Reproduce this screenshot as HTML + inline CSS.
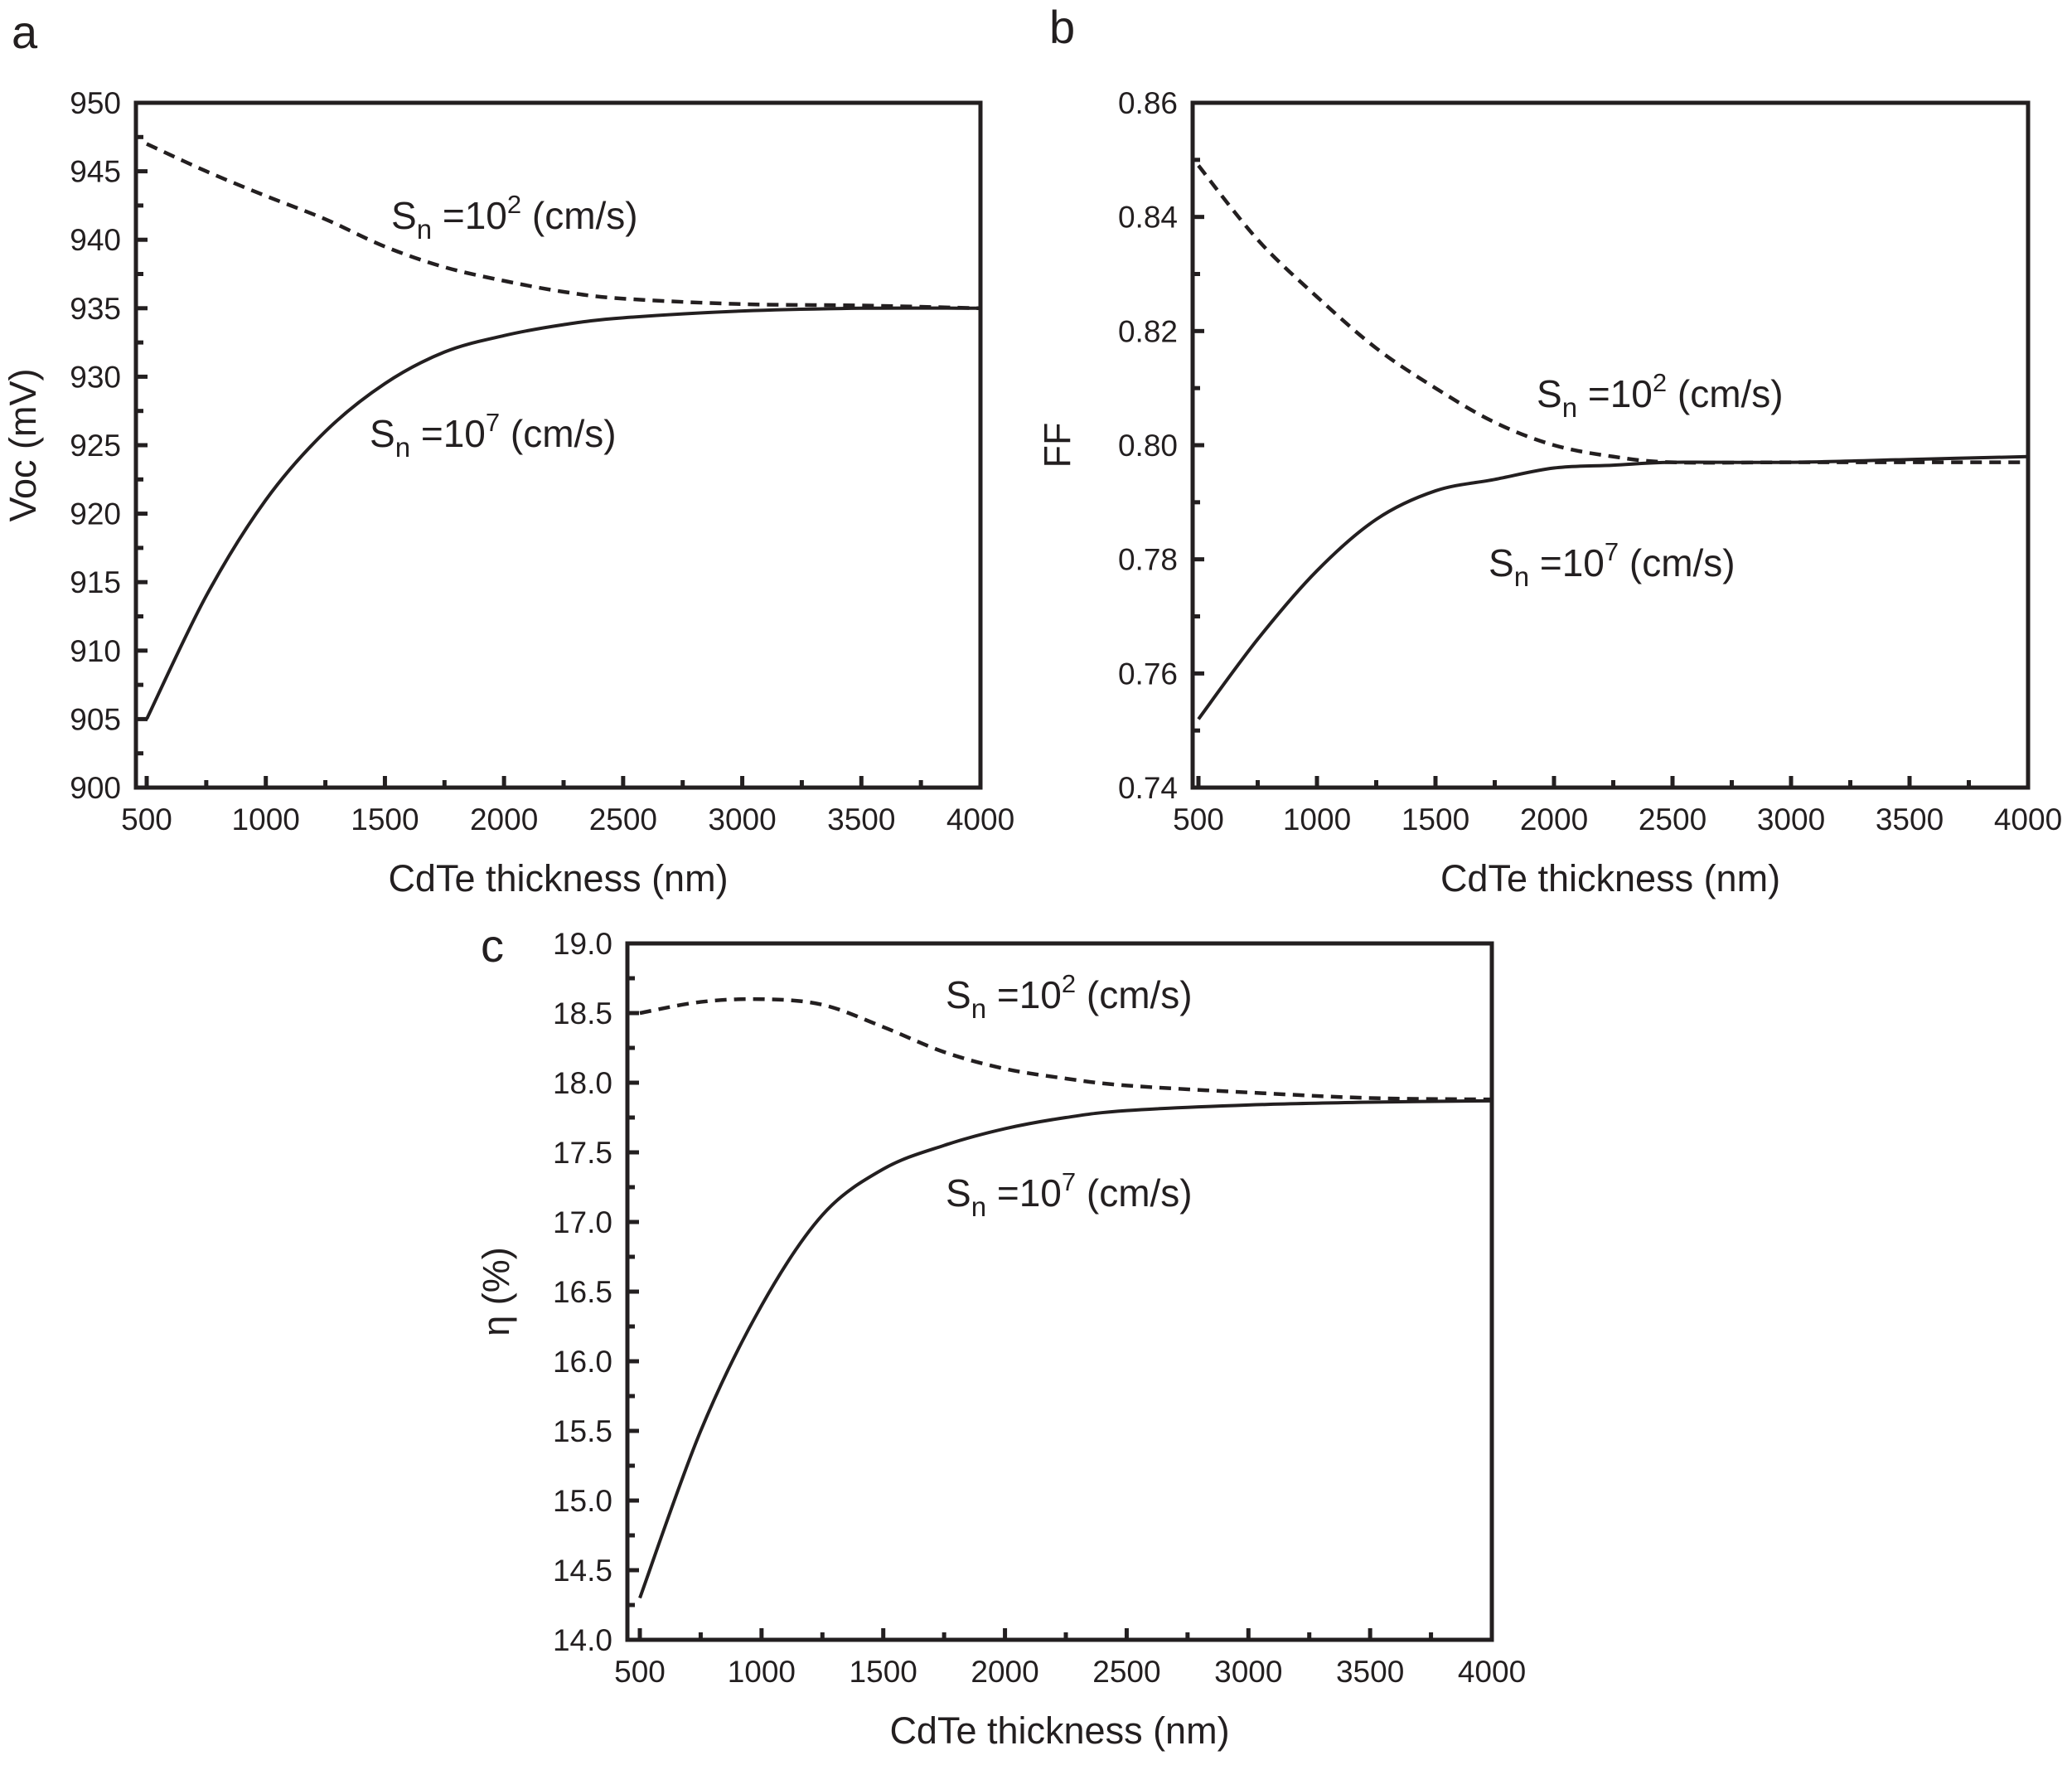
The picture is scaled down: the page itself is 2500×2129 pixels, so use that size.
<!DOCTYPE html>
<html><head><meta charset="utf-8"><style>
html,body{margin:0;padding:0;background:#fff;}
svg text{font-family:"Liberation Sans",Arial,sans-serif;fill:#231f20;}
</style></head><body>
<svg id="fig" width="2500" height="2124" viewBox="0 0 2500 2124" xmlns="http://www.w3.org/2000/svg"></svg>
<script>
const xCats = [500,750,1000,1250,1500,1750,2000,2250,2500,3000,3500,4000];
const aDashed = [947,945,943.2,941.5,939.5,938,937,936.2,935.7,935.3,935.2,935];
const aSolid = [905,914,921,926,929.5,931.8,933,933.8,934.3,934.8,935,935];
const bDashed = [0.849,0.836,0.826,0.817,0.810,0.804,0.800,0.798,0.797,0.797,0.797,0.797];
const bSolid = [0.752,0.766,0.778,0.787,0.792,0.794,0.796,0.7965,0.797,0.797,0.7975,0.798];
const cDashed = [18.5,18.58,18.6,18.56,18.4,18.22,18.1,18.03,17.98,17.93,17.89,17.88];
const cSolid = [14.3,15.5,16.4,17.05,17.38,17.55,17.67,17.75,17.8,17.84,17.86,17.87];
const xTicks = [500,1000,1500,2000,2500,3000,3500,4000];
const aTicks = [900,905,910,915,920,925,930,935,940,945,950];
const bTicks = [0.74,0.76,0.78,0.80,0.82,0.84,0.86];
const cTicks = [14.0,14.5,15.0,15.5,16.0,16.5,17.0,17.5,18.0,18.5,19.0];

const NS="http://www.w3.org/2000/svg";
const svg=document.getElementById('fig');
function mk(tag,attrs,parent){const e=document.createElementNS(NS,tag);for(const k in attrs)e.setAttribute(k,attrs[k]);(parent||svg).appendChild(e);return e;}

function panel(p){
  const g=mk('g',{});
  
  
  const X=v=>p.x500+(v-500)*(p.x4000-p.x500)/3500;
  const Y=v=>p.bot-(v-p.ymin)*(p.bot-p.top)/(p.ymax-p.ymin);
  for(let v=500;v<=4000;v+=250){
    const major=(v%500===0);
    const t=mk('line',{x1:X(v),x2:X(v),y1:p.bot,y2:p.bot-(major?14:9),stroke:'#231f20','stroke-width':5},g);
    
    
  }
  const n=p.yticks.length;
  for(let i=0;i<n;i++){
    const v=p.yticks[i];
    const t=mk('line',{x1:p.left,x2:p.left+14,y1:Y(v),y2:Y(v),stroke:'#231f20','stroke-width':5},g);
    
    
    if(i<n-1){const m=(v+p.yticks[i+1])/2;
      const t2=mk('line',{x1:p.left,x2:p.left+9,y1:Y(m),y2:Y(m),stroke:'#231f20','stroke-width':5},g);
      
      }
    const lb=mk('text',{x:p.left-18,y:Y(v)+13,'font-size':37,'text-anchor':'end'},g);
    
    
    lb.textContent=p.fmt(v);
  }
  xTicks.forEach(v=>{
    const lb=mk('text',{x:X(v),y:p.bot+51,'font-size':37,'text-anchor':'middle'},g);
    
    
    lb.textContent=v;
  });
  function curve(vals,dashed,name){
    const pts=xCats.map((c,i)=>[X(c),Y(vals[i])]);
    let d='M'+pts[0][0]+','+pts[0][1];
    for(let i=0;i<pts.length-1;i++){
      const p0=pts[Math.max(0,i-1)],p1=pts[i],p2=pts[i+1],p3=pts[Math.min(pts.length-1,i+2)];
      const c1=[p1[0]+(p2[0]-p0[0])/6,p1[1]+(p2[1]-p0[1])/6];
      const c2=[p2[0]-(p3[0]-p1[0])/6,p2[1]-(p3[1]-p1[1])/6];
      d+=' C'+c1+' '+c2+' '+p2;
    }
    const path=mk('path',{d:d,fill:'none',stroke:'#231f20','stroke-width':dashed?4.5:4,'stroke-dasharray':dashed?'14,9':'none'},g);
    
    
  }
  curve(p.dashed,true,'line-sn-1e2');
  curve(p.solid,false,'line-sn-1e7');
  const fr=mk('rect',{x:p.left,y:p.top,width:p.right-p.left,height:p.bot-p.top,fill:'none',stroke:'#231f20','stroke-width':5},g);
  
  
  const xt=mk('text',{x:(p.left+p.right)/2,y:p.bot+125,'font-size':45,'text-anchor':'middle'},g);
  
  
  xt.textContent='CdTe thickness (nm)';
  const yt=mk('text',{x:0,y:0,'font-size':45,'text-anchor':'middle',transform:'translate('+(p.ytx)+','+((p.top+p.bot)/2)+') rotate(-90)'},g);
  
  
  yt.textContent=p.ytitle;
  const pl=mk('text',{x:p.lx,y:p.ly,'font-size':56},g);
  
  
  pl.textContent=p.id;
  function ann(x,y,exp,name){
    const t=mk('text',{x:x,y:y,'font-size':46},g);
    
    
    t.innerHTML='S<tspan dy="12" font-size="33">n</tspan><tspan dy="-12"> =10</tspan><tspan dy="-19" font-size="31">'+exp+'</tspan><tspan dy="19"> (cm/s)</tspan>';
  }
  ann(p.a2[0],p.a2[1],'2','annotation-sn-1e2');
  ann(p.a7[0],p.a7[1],'7','annotation-sn-1e7');
}

panel({id:'a',left:164,right:1183,top:124,bot:950,x500:177,x4000:1183,ymin:900,ymax:950,yticks:aTicks,fmt:v=>String(v),
  dashed:aDashed,solid:aSolid,ytitle:'Voc (mV)',ytx:43,lx:14,ly:58,a2:[472,276],a7:[446,539]});
panel({id:'b',left:1439,right:2447,top:124,bot:950,x500:1446,x4000:2447,ymin:0.74,ymax:0.86,yticks:bTicks,fmt:v=>v.toFixed(2),
  dashed:bDashed,solid:bSolid,ytitle:'FF',ytx:1291,lx:1266,ly:52,a2:[1854,491],a7:[1796,695]});
panel({id:'c',left:757,right:1800,top:1138,bot:1978,x500:772,x4000:1800,ymin:14,ymax:19,yticks:cTicks,fmt:v=>v.toFixed(1),
  dashed:cDashed,solid:cSolid,ytitle:'η (%)',ytx:614,lx:580,ly:1160,a2:[1141,1216],a7:[1141,1455]});
</script>
</body></html>
